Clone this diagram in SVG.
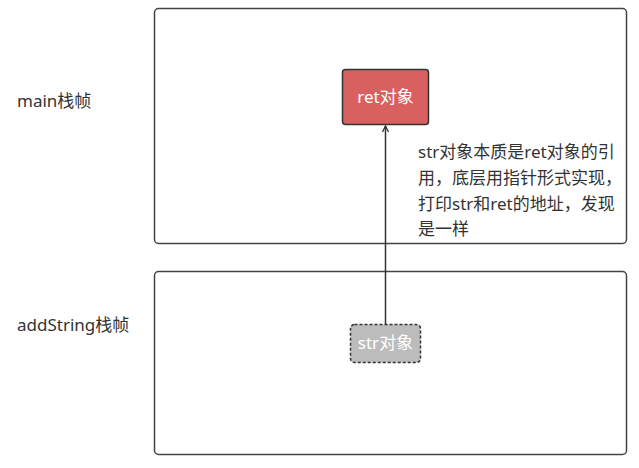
<svg xmlns="http://www.w3.org/2000/svg" width="639" height="468" viewBox="0 0 639 468">
<style>
text{font-family:"Noto Sans","Noto Sans CJK SC",sans-serif;font-size:17px;fill:#333}
.frame{fill:#fff;stroke:#444;stroke-width:1.5}
.w{fill:#fff}
</style>
<defs>
<marker id="ah" markerWidth="8" markerHeight="8" refX="7" refY="4" orient="auto" markerUnits="userSpaceOnUse">
<path d="M1,1 L7,4 L1,7" fill="none" stroke="#333" stroke-width="1.3"/>
</marker>
</defs>
<rect width="639" height="468" fill="#fff"/>
<g id="main-frame">
<rect class="frame" x="154.5" y="8.5" width="472" height="235" rx="4"/>
<text x="17" y="107">main栈帧</text>
</g>
<g id="addString-frame">
<rect class="frame" x="154.5" y="271.5" width="472" height="183" rx="4"/>
<text x="17" y="331">addString栈帧</text>
</g>
<g id="ret">
<rect x="342.5" y="69.5" width="86" height="55" rx="3" fill="#d8615f" stroke="#333" stroke-width="1.5"/>
<text class="w" x="385.5" y="103" text-anchor="middle">ret对象</text>
</g>
<g id="str">
<rect x="350.5" y="324.5" width="70" height="38" rx="4" fill="#bcbcbc" stroke="#333" stroke-width="1.5" stroke-dasharray="3,2"/>
<text class="w" x="385.5" y="349" text-anchor="middle">str对象</text>
</g>
<g id="connectors">
<line x1="385.5" y1="324" x2="385.5" y2="126" stroke="#333" stroke-width="1.5" marker-end="url(#ah)"/>
</g>
<g id="note">
<text x="418" y="158">str对象本质是ret对象的引</text>
<text x="418" y="184">用，底层用指针形式实现，</text>
<text x="418" y="210">打印str和ret的地址，发现</text>
<text x="418" y="235">是一样</text>
</g>
</svg>
